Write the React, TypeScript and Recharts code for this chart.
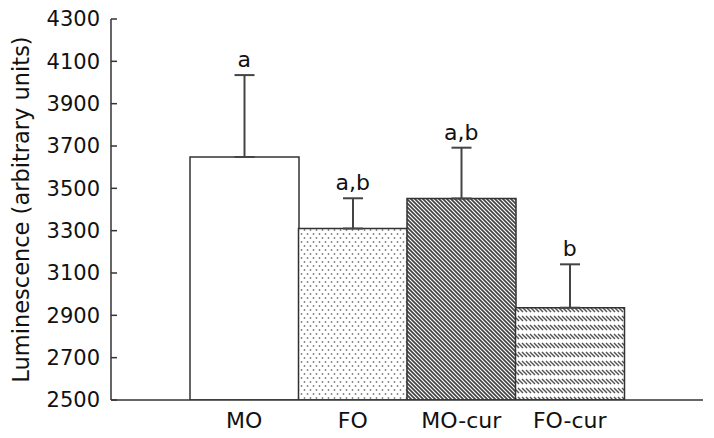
import { Bar, Cell, ComposedChart, ErrorBar, LabelList, Line, XAxis, YAxis } from "recharts";

const groups = ["MO", "FO", "MO-cur", "FO-cur"];
const means = [3648, 3310, 3452, 2936];
const sems = [387, 143, 240, 205];
const letters = ["a", "a,b", "a,b", "b"];
const yTicks = [2500, 2700, 2900, 3100, 3300, 3500, 3700, 3900, 4100, 4300];

const fills = ["#ffffff", "url(#pDots)", "url(#pHatch)", "url(#pRows)"];

const data = groups.map((g, i) => ({
  name: g,
  mean: means[i],
  err: [0, sems[i]],
  top: means[i] + sems[i],
  sig: letters[i],
}));

const font = "'DejaVu Sans', Arial, sans-serif";

export default function App() {
  return (
    <div style={{ position: "absolute", left: 0, top: 0, fontFamily: font }}>
      <ComposedChart
        width={714}
        height={438}
        data={data}
        margin={{ top: 19, right: 11, bottom: 0, left: 0 }}
        barCategoryGap={0}
      >
        <defs>
          <pattern id="pDots" width="6" height="8" patternUnits="userSpaceOnUse">
            <rect width="6" height="8" fill="#fff" />
            <circle cx="1.5" cy="2" r="0.9" fill="#808080" />
            <circle cx="4.5" cy="6" r="0.9" fill="#808080" />
          </pattern>
          <pattern id="pHatch" width="4" height="4" patternUnits="userSpaceOnUse">
            <rect width="4" height="4" fill="#fff" />
            <path d="M-1,-1 L5,5 M-1,3 L1,5 M3,-1 L5,1" stroke="#444" strokeWidth="1.7" />
          </pattern>
          <pattern id="pRows" width="4" height="9" patternUnits="userSpaceOnUse">
            <rect width="4" height="9" fill="#fff" />
            <path d="M-2,1 L3,6 M2,1 L7,6" stroke="#555" strokeWidth="1.5" />
          </pattern>
        </defs>
        <XAxis
          dataKey="name"
          height={38}
          padding={{ left: 79, right: 79 }}
          tickLine={false}
          tickSize={0}
          tickMargin={12}
          stroke="#333"
          strokeWidth={1.5}
          tick={{ fill: "#111", fontSize: 22, fontFamily: font }}
        />
        <YAxis
          width={111}
          domain={[2500, 4300]}
          ticks={yTicks}
          allowDataOverflow
          tickSize={-6}
          tickMargin={17}
          stroke="#333"
          strokeWidth={1.5}
          tick={{ fill: "#111", fontSize: 21, fontFamily: font }}
          label={{
            value: "Luminescence (arbitrary units)",
            angle: -90,
            position: "insideLeft",
            offset: 21,
            style: { textAnchor: "middle", fontSize: 22.5, fill: "#111", fontFamily: font },
          }}
        />
        <Bar dataKey="mean" stroke="#333" strokeWidth={1.5} isAnimationActive={false}>
          {data.map((d, i) => (
            <Cell key={d.name} fill={fills[i]} />
          ))}
          <ErrorBar dataKey="err" direction="y" width={10} stroke="#444" strokeWidth={2} isAnimationActive={false} />
        </Bar>
        <Line dataKey="top" stroke="none" dot={false} activeDot={false} legendType="none" isAnimationActive={false}>
          <LabelList dataKey="sig" position="top" offset={8} fill="#111" fontSize={22} fontFamily={font} />
        </Line>
      </ComposedChart>
    </div>
  );
}
